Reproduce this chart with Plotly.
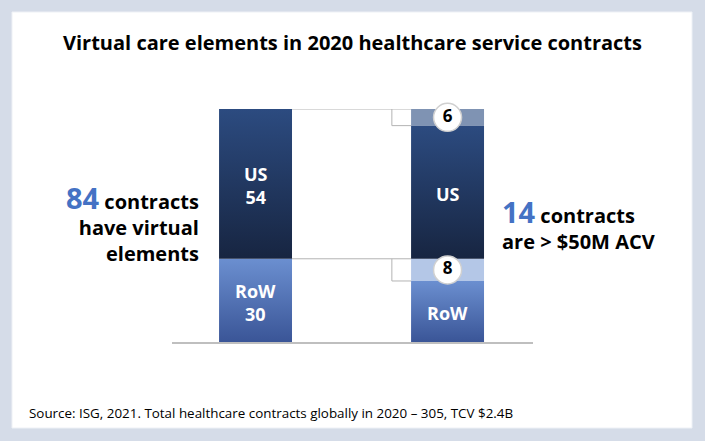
import plotly.graph_objects as go

# values
groups = [0, 1]                 # 0 = all virtual-care contracts, 1 = split of > $50M ACV
regions = ["US", "RoW"]
all_contracts = [54, 30]        # US, RoW
large_contracts = [6, 8]        # US, RoW with ACV > $50M
total_all = sum(all_contracts)
total_large = sum(large_contracts)

W, H = 705, 441
bar_w = 0.38

us_grad = ["#172541", "#2c4b80"]     # bottom, top
row_grad = ["#3a5597", "#6b8fd0"]
us_light = "#7f93b3"
row_light = "#b4c7e7"
accent = "#4472c4"
font = "Open Sans"

us_all, row_all = all_contracts
us_big, row_big = large_contracts

fig = go.Figure()


def grad_bar(x, base, height, colors, label):
    # one bar segment filled with a vertical gradient
    x0, x1 = x - bar_w / 2, x + bar_w / 2
    fig.add_trace(go.Scatter(
        x=[x0, x1, x1, x0, x0], y=[base, base, base + height, base + height, base],
        mode="lines", line=dict(width=0), fill="toself",
        fillgradient=dict(type="vertical", colorscale=[[0, colors[0]], [1, colors[1]]]),
        hoverinfo="skip",
    ))
    fig.add_annotation(
        x=x, y=base + height / 2, yshift=-2, text="<b>%s</b>" % label, showarrow=False,
        font=dict(family=font, size=18, color="white"),
    )


# left bar: all contracts with virtual elements
grad_bar(groups[0], 0, row_all, row_grad, "RoW<br>%d" % row_all)
grad_bar(groups[0], row_all, us_all, us_grad, "US<br>%d" % us_all)

# right bar: same split, with the > $50M ACV slices on top of each region
grad_bar(groups[1], 0, row_all - row_big, row_grad, "RoW")
grad_bar(groups[1], row_all, us_all - us_big, us_grad, "US")
fig.add_trace(go.Bar(
    x=[groups[1], groups[1]], y=[row_big, us_big], base=[row_all - row_big, total_all - us_big],
    width=bar_w, marker=dict(color=[row_light, us_light], line=dict(width=0)),
))

# connector lines between the two bars
gap_l = groups[0] + bar_w / 2
gap_r = groups[1] - bar_w / 2
notch = gap_r - 0.1
for top, cut in [(total_all, total_all - us_big), (row_all, row_all - row_big)]:
    fig.add_trace(go.Scatter(
        x=[gap_l, gap_r, None, notch, notch, gap_r],
        y=[top, top, None, top, cut, cut],
        mode="lines", line=dict(color="#b3b3b3", width=1),
        hoverinfo="skip",
    ))

# white number badges on the large-contract slices
fig.add_trace(go.Scatter(
    x=[groups[1], groups[1]],
    y=[total_all - us_big / 2, row_all - row_big / 2],
    mode="markers+text",
    marker=dict(size=28, color="white", line=dict(color="#d0d0d0", width=1.5)),
    text=[str(us_big), str(row_big)], textposition="middle center",
    textfont=dict(family=font, size=17, color="black", weight="bold"),
    cliponaxis=False, hoverinfo="skip",
))

fig.update_layout(
    width=W, height=H,
    margin=dict(l=0, r=0, t=0, b=0),
    paper_bgcolor="#d5dce8",
    plot_bgcolor="rgba(0,0,0,0)",
    showlegend=False,
    font=dict(family=font, color="black"),
    xaxis=dict(domain=[172 / W, 533 / W], range=[-0.435, 1.445],
               showgrid=False, zeroline=False, showticklabels=False,
               showline=True, linecolor="#bfbfbf", linewidth=1.5, fixedrange=True),
    yaxis=dict(domain=[1 - 342 / H, 1 - 109 / H], range=[0, total_all],
               showgrid=False, zeroline=False, showticklabels=False, fixedrange=True),
    shapes=[dict(type="rect", xref="paper", yref="paper",
                 x0=12 / W, x1=692 / W, y0=1 - 428 / H, y1=1 - 12 / H,
                 fillcolor="white", line=dict(color="#eef1f6", width=1), layer="below")],
)

fig.add_annotation(
    xref="paper", yref="paper", x=0.5, y=1 - 42 / H, xanchor="center", yanchor="middle",
    text="<b>Virtual care elements in 2020 healthcare service contracts</b>",
    showarrow=False, font=dict(size=20, family=font, color="black"),
)

# side call-outs
fig.add_annotation(
    xref="paper", yref="paper", x=201 / W, y=1 - 222 / H, xanchor="right", yanchor="middle",
    align="right", showarrow=False, font=dict(size=20, family=font, color="black"),
    text="<b><span style='font-size:29px;color:%s'>%d</span> contracts<br>have virtual<br>elements</b>"
         % (accent, total_all),
)
fig.add_annotation(
    xref="paper", yref="paper", x=500 / W, y=1 - 223.5 / H, xanchor="left", yanchor="middle",
    align="left", showarrow=False, font=dict(size=20, family=font, color="black"),
    text="<b><span style='font-size:29px;color:%s'>%d</span> contracts<br>are &gt; $50M ACV</b>"
         % (accent, total_large),
)

fig.add_annotation(
    xref="paper", yref="paper", x=27 / W, y=1 - 413 / H, xanchor="left", yanchor="middle",
    showarrow=False, font=dict(size=13.4, family=font, color="black"),
    text="Source: ISG, 2021. Total healthcare contracts globally in 2020 \u2013 305, TCV $2.4B",
)

fig.write_html("out.html", config={"displayModeBar": False},
               post_script="document.body.style.margin = '0';")
